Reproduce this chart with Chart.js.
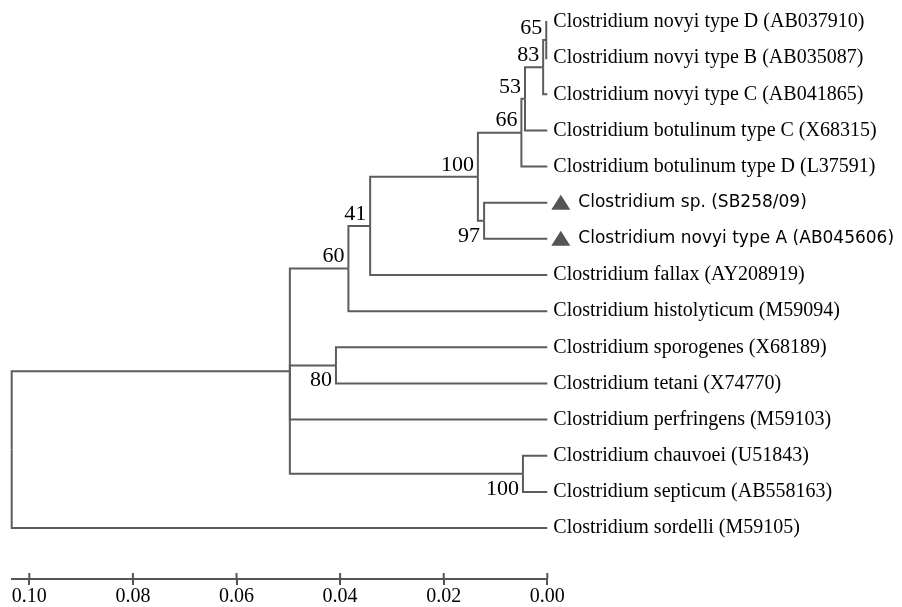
<!DOCTYPE html>
<html lang="en">
<head>
  <meta charset="UTF-8"/>
  <title>Clostridium 16S tree</title>
  <script src="https://cdn.jsdelivr.net/npm/chart.js"></script>
  <style>
    body { margin: 0; background: #fff; }
    .wrap { width: 902px; height: 607px; }
  </style>
</head>
<body>
  <div class="wrap"><canvas id="tree"></canvas></div>

  <script>
    // tips, top to bottom (all tips sit at distance 0)
    const taxa = [
      'Clostridium novyi type D (AB037910)',
      'Clostridium novyi type B (AB035087)',
      'Clostridium novyi type C (AB041865)',
      'Clostridium botulinum type C (X68315)',
      'Clostridium botulinum type D (L37591)',
      'Clostridium sp. (SB258/09)',
      'Clostridium novyi type A (AB045606)',
      'Clostridium fallax (AY208919)',
      'Clostridium histolyticum (M59094)',
      'Clostridium sporogenes (X68189)',
      'Clostridium tetani (X74770)',
      'Clostridium perfringens (M59103)',
      'Clostridium chauvoei (U51843)',
      'Clostridium septicum (AB558163)',
      'Clostridium sordelli (M59105)'
    ];
    const marked = [5, 6];

    // internal nodes, children listed before parents; 't' = tip, 'n' = node
    const nodeDist = [0.0002, 0.0008, 0.0043, 0.0050, 0.0122, 0.0134, 0.0342, 0.0384, 0.0408, 0.0047, 0.0497, 0.1034];
    const nodeKids = [
      ['t0', 't1'], ['n0', 't2'], ['n1', 't3'], ['n2', 't4'],
      ['t5', 't6'], ['n3', 'n4'], ['n5', 't7'], ['n6', 't8'],
      ['t9', 't10'], ['t12', 't13'], ['n7', 'n8', 't11', 'n9'], ['n10', 't14']
    ];
    const support = [65, 83, 53, 66, 97, 100, 41, 60, 80, 100, null, null];
    const supportSide = ['up', 'up', 'up', 'up', 'down', 'up', 'up', 'up', 'down', 'down', null, null];

    const distTicks = [0, 0.02, 0.04, 0.06, 0.08, 0.10];

    // layout: node row = middle of its first and last child
    const nodeY = [];
    const yOf = k => k[0] === 't' ? +k.slice(1) : nodeY[+k.slice(1)];
    const dOf = k => k[0] === 't' ? 0 : nodeDist[+k.slice(1)];
    nodeKids.forEach((kids, i) => {
      nodeY[i] = (yOf(kids[0]) + yOf(kids[kids.length - 1])) / 2;
    });

    const datasets = [];
    nodeKids.forEach((kids, i) => {
      kids.forEach(k => {
        datasets.push({
          data: [
            { x: nodeDist[i], y: nodeY[i] },
            { x: nodeDist[i], y: yOf(k) },
            { x: dOf(k), y: yOf(k) }
          ],
          showLine: true,
          borderColor: '#5c5c5c',
          borderWidth: 2,
          pointRadius: 0,
          clip: 4
        });
      });
    });

    const treeText = {
      id: 'treeText',
      afterDraw(chart) {
        const { ctx, scales: { x, y }, chartArea } = chart;
        const tipX = x.getPixelForValue(0);
        ctx.save();
        ctx.textBaseline = 'middle';
        taxa.forEach((name, i) => {
          const py = y.getPixelForValue(i);
          if (marked.includes(i)) {
            ctx.fillStyle = '#555';
            ctx.beginPath();
            ctx.moveTo(tipX + 4, py + 7);
            ctx.lineTo(tipX + 23, py + 7);
            ctx.lineTo(tipX + 13.5, py - 8);
            ctx.closePath();
            ctx.fill();
            ctx.fillStyle = '#000';
            ctx.font = '17px "DejaVu Sans"';
            ctx.fillText(name, tipX + 31, py);
          } else {
            ctx.fillStyle = '#000';
            ctx.font = '20px "Liberation Serif"';
            ctx.fillText(name, tipX + 6, py);
          }
        });

        ctx.font = '22px "Liberation Serif"';
        ctx.textAlign = 'right';
        support.forEach((s, i) => {
          if (s == null) return;
          const px = x.getPixelForValue(nodeDist[i]) - 4;
          const py = y.getPixelForValue(nodeY[i]) + (supportSide[i] === 'up' ? -12 : 15);
          ctx.fillText(String(s), px, py);
        });

        // tick marks also poke above the scale line
        ctx.strokeStyle = '#555';
        ctx.lineWidth = 2;
        distTicks.forEach(v => {
          const px = x.getPixelForValue(v);
          ctx.beginPath();
          ctx.moveTo(px, chartArea.bottom - 6);
          ctx.lineTo(px, chartArea.bottom);
          ctx.stroke();
        });
        ctx.restore();
      }
    };

    new Chart(document.getElementById('tree'), {
      type: 'scatter',
      data: { datasets },
      options: {
        responsive: true,
        maintainAspectRatio: false,
        animation: false,
        layout: { padding: { left: 11.7, right: 354.7, top: 22, bottom: 0 } },
        plugins: { legend: { display: false }, tooltip: { enabled: false } },
        scales: {
          x: {
            type: 'linear',
            reverse: true,
            min: 0,
            max: 0.1034,
            afterBuildTicks: s => { s.ticks = distTicks.map(v => ({ value: v })); },
            afterFit: s => { s.height = 28; },
            border: { color: '#555', width: 2 },
            grid: { drawOnChartArea: false, tickLength: 6, color: '#555', lineWidth: 2 },
            ticks: {
              color: '#000',
              padding: 0,
              maxRotation: 0,
              autoSkip: false,
              font: { family: 'Liberation Serif', size: 20 },
              callback: v => v.toFixed(2)
            }
          },
          y: { display: false, reverse: true, min: 0, max: 15.41 }
        }
      },
      plugins: [treeText]
    });
  </script>
</body>
</html>
